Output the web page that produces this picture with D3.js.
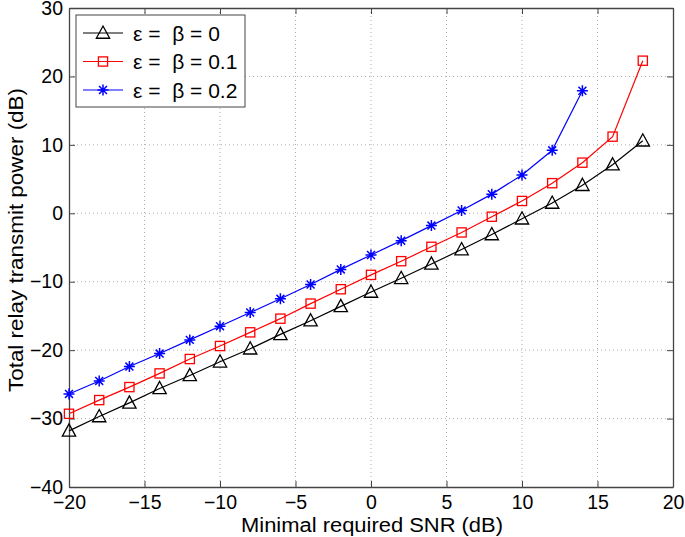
<!DOCTYPE html>
<html><head><meta charset="utf-8">
<script src="https://cdn.jsdelivr.net/npm/d3@7"></script>
<style>body{margin:0;background:#fff;} text{font-family:"Liberation Sans",Arial,Helvetica,sans-serif;}</style>
</head><body>
<svg id="c" width="685" height="537"></svg>
<script>
const snrBlack = [-20,-18,-16,-14,-12,-10,-8,-6,-4,-2,0,2,4,6,8,10,12,14,16,18];
const powerBlack = [-31.8,-29.7,-27.7,-25.6,-23.7,-21.7,-19.8,-17.7,-15.7,-13.6,-11.5,-9.5,-7.4,-5.3,-3.1,-0.8,1.5,4.1,7.1,10.6];
const snrRed = [-20,-18,-16,-14,-12,-10,-8,-6,-4,-2,0,2,4,6,8,10,12,14,16,18];
const powerRed = [-29.3,-27.3,-25.4,-23.4,-21.3,-19.4,-17.4,-15.4,-13.2,-11.1,-9.0,-7.0,-4.9,-2.8,-0.5,1.8,4.4,7.4,11.2,22.3];
const snrBlue = [-20,-18,-16,-14,-12,-10,-8,-6,-4,-2,0,2,4,6,8,10,12,14];
const powerBlue = [-26.4,-24.5,-22.4,-20.5,-18.5,-16.5,-14.5,-12.5,-10.4,-8.2,-6.1,-4.0,-1.8,0.4,2.8,5.6,9.2,17.9];
const seriesLabels = ["ε =  β = 0","ε =  β = 0.1","ε =  β = 0.2"];
const xTicks = [-20,-15,-10,-5,0,5,10,15,20];
const yTicks = [-40,-30,-20,-10,0,10,20,30];

const svg = d3.select("#c");
const L=69, R=673, T=8, B=487;
const x = d3.scaleLinear().domain([-20,20]).range([L,R]);
const y = d3.scaleLinear().domain([-40,30]).range([B,T]);
const fmt = d => (d<0 ? "\u2212"+Math.abs(d) : ""+d);

// grid
const g = svg.append("g");
g.selectAll(".gx").data(xTicks.slice(1,-1)).enter().append("line")
 .attr("x1",d=>x(d)).attr("x2",d=>x(d)).attr("y1",T).attr("y2",B)
 .attr("stroke","#9a9a9a").attr("stroke-width",0.8).attr("stroke-dasharray","1,3");
g.selectAll(".gy").data(yTicks.slice(1,-1)).enter().append("line")
 .attr("y1",d=>y(d)).attr("y2",d=>y(d)).attr("x1",L).attr("x2",R)
 .attr("stroke","#9a9a9a").attr("stroke-width",0.8).attr("stroke-dasharray","1,3");

// axes
const axCol="#444";
const axB = svg.append("g").attr("transform",`translate(0,${B})`).call(d3.axisBottom(x).tickValues(xTicks).tickSizeInner(-6).tickSizeOuter(0).tickPadding(8).tickFormat(fmt));
const axT = svg.append("g").attr("transform",`translate(0,${T})`).call(d3.axisTop(x).tickValues(xTicks).tickSizeInner(-6).tickSizeOuter(0).tickFormat(""));
const axL = svg.append("g").attr("transform",`translate(${L},0)`).call(d3.axisLeft(y).tickValues(yTicks).tickSizeInner(-6).tickSizeOuter(0).tickPadding(6).tickFormat(fmt));
const axR = svg.append("g").attr("transform",`translate(${R},0)`).call(d3.axisRight(y).tickValues(yTicks).tickSizeInner(-6).tickSizeOuter(0).tickFormat(""));
[axB,axT,axL,axR].forEach(a=>{
  a.selectAll("path").attr("stroke",axCol).attr("stroke-width",1.3);
  a.selectAll("line").attr("stroke",axCol).attr("stroke-width",1);
  a.selectAll("text").attr("fill","#000").style("font-size","19.5px");
});
axB.selectAll("text").attr("dy","0.71em");

svg.append("text").attr("x",372).attr("y",532).attr("text-anchor","middle").style("font-size","20px")
  .attr("textLength",262).attr("lengthAdjust","spacingAndGlyphs").text("Minimal required SNR (dB)");
svg.append("text").attr("transform","translate(23,240) rotate(-90)").attr("text-anchor","middle").style("font-size","20px")
  .attr("textLength",304).attr("lengthAdjust","spacingAndGlyphs").text("Total relay transmit power (dB)");

// markers
function triangle(sel,cx,cy,col){ const s=7; sel.append("path").attr("d",`M${cx},${cy-s}L${cx+s*0.95},${cy+s*0.75}L${cx-s*0.95},${cy+s*0.75}Z`).attr("fill","none").attr("stroke",col).attr("stroke-width",1.3); }
function square(sel,cx,cy,col){ const s=4.6; sel.append("rect").attr("x",cx-s).attr("y",cy-s).attr("width",2*s).attr("height",2*s).attr("fill","none").attr("stroke",col).attr("stroke-width",1.3); }
function star(sel,cx,cy,col){ const s=5.5, d=s*0.72; sel.append("path").attr("d",`M${cx-s},${cy}L${cx+s},${cy}M${cx},${cy-s}L${cx},${cy+s}M${cx-d},${cy-d}L${cx+d},${cy+d}M${cx-d},${cy+d}L${cx+d},${cy-d}`).attr("stroke",col).attr("stroke-width",1.5); }

const series = [
  {xs:snrBlack, ys:powerBlack, col:"#000", m:triangle},
  {xs:snrRed, ys:powerRed, col:"#ff0000", m:square},
  {xs:snrBlue, ys:powerBlue, col:"#0000ff", m:star}
];
const line = d3.line().x(d=>x(d[0])).y(d=>y(d[1]));
series.forEach(s=>{
  const pts = s.xs.map((v,i)=>[v,s.ys[i]]);
  svg.append("path").attr("d",line(pts)).attr("fill","none").attr("stroke",s.col).attr("stroke-width",1.2);
  const mg = svg.append("g");
  pts.forEach(p=>s.m(mg,x(p[0]),y(p[1]),s.col));
});

// legend
const lg = svg.append("g");
lg.append("rect").attr("x",76).attr("y",15).attr("width",169).attr("height",92).attr("fill","#fff").attr("stroke",axCol).attr("stroke-width",1);
series.forEach((s,i)=>{
  const cy = 33 + i*28.5;
  lg.append("line").attr("x1",83).attr("x2",123).attr("y1",cy).attr("y2",cy).attr("stroke",s.col).attr("stroke-width",1.2);
  s.m(lg,103,cy,s.col);
  lg.append("text").attr("x",133).attr("y",cy).attr("dy","0.36em").style("font-size","21px").style("white-space","pre").attr("xml:space","preserve").text(seriesLabels[i]);
});
</script>
</body></html>
